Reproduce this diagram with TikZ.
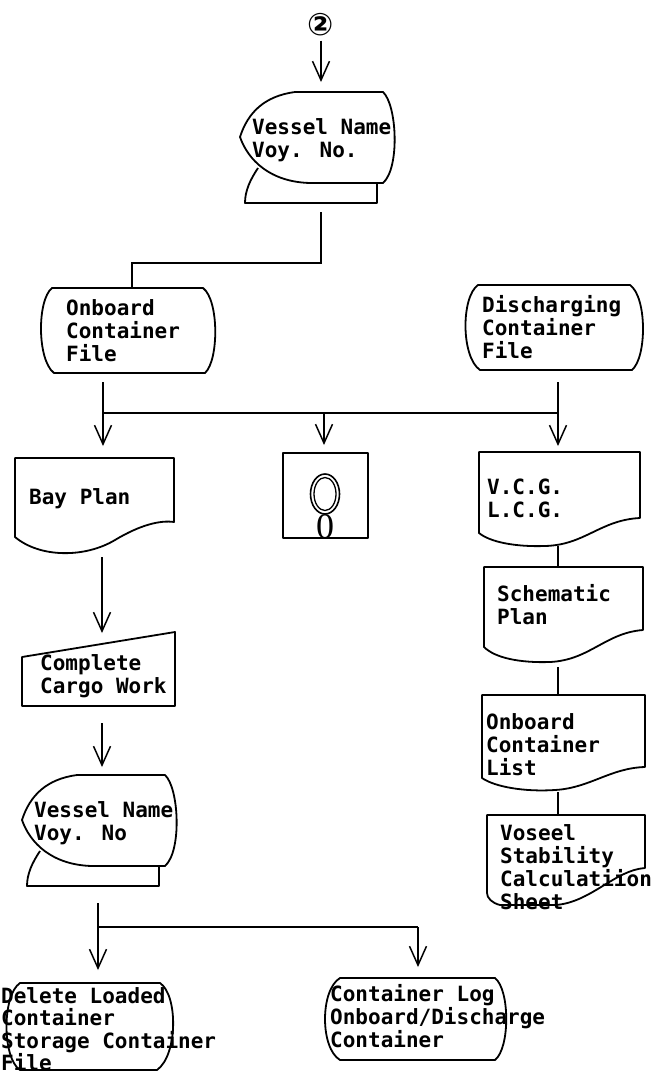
\documentclass[tikz,border=0pt]{standalone}
\usepackage{fontspec}
\newfontfamily\typefont{DejaVu Sans Mono}
\newfontfamily\symfont{DejaVu Sans}
\newfontfamily\digitfont{Liberation Serif}
\usetikzlibrary{arrows.meta}
\begin{document}
\begin{tikzpicture}[x=1pt,y=-1pt,
  shp/.style={line width=1.8pt, line join=round},
  conn/.style={line width=1.8pt},
  arr/.style={conn, -{Straight Barb[length=19pt,width=17pt,line width=1.5pt]}},
  lbl/.style={anchor=north west, inner sep=0pt, align=left,
    font=\typefont\bfseries\fontsize{21}{23}\selectfont,
    execute at begin node=\strut},
  vdisp/.pic={
    \draw[shp] (240,137) .. controls (248,112) and (265,96) .. (295,92) -- (383,92)
      .. controls (397,105) and (400,168) .. (383,183) -- (310,183)
      .. controls (270,182) and (248,160) .. (240,137) -- cycle;
    \draw[shp] (258,168) .. controls (250,180) and (245,191) .. (245,203) -- (377,203) -- (377,183);
  }
]
\fill[white] (0,0) rectangle (654,1076);
\useasboundingbox (0,0) rectangle (654,1076);

% ---- top connector symbol and first display
\node[inner sep=0pt, font=\symfont\bfseries\fontsize{31}{31}\selectfont] (c2) at (321,25) {②};
\pic at (0,0) {vdisp};
\node[lbl] (vn1) at (252,118.5) {Vessel Name\\Voy. No.};
\coordinate (vn1top) at (321,92);
\coordinate (vn1out) at (321,212);
\draw[arr, shorten <=4pt, shorten >=10pt] (c2) -- (vn1top);

% ---- files
\draw[shp] (52,288) -- (203,288) .. controls (219,300) and (219,360) .. (205,373) -- (54,373)
  .. controls (37,360) and (37,300) .. (52,288) -- cycle;
\node[lbl] (ocf) at (66,299.5) {Onboard\\Container\\File};
\draw[shp] (478,285) -- (630,285) .. controls (647,297) and (647,357) .. (632,370) -- (480,370)
  .. controls (461,357) and (461,297) .. (478,285) -- cycle;
\node[lbl] (dcf) at (482,295.5) {Discharging\\Container\\File};
\coordinate (ocftop) at (132,288);
\coordinate (j1) at (0,263);
\draw[conn] (vn1out) -- (vn1out |- j1) -| (ocftop);

% ---- split to three outputs
\coordinate (ocfout) at (103,382);
\coordinate (dcfout) at (558,382);
\coordinate (bpin) at (103,446);
\coordinate (diskin) at (324,445);
\coordinate (vcgin) at (558,446);
\coordinate (j2) at (0,413);
\draw[arr] (ocfout) -- (bpin);
\draw[arr] (dcfout) -- (vcgin);
\draw[conn] (ocfout |- j2) -- (dcfout |- j2);
\draw[arr] (diskin |- j2) -- (diskin);

% ---- Bay plan document
\draw[shp] (15,458) -- (174,458) -- (174,522) .. controls (160,520) and (140,525) .. (115,540)
  .. controls (85,558) and (40,558) .. (15,537) -- cycle;
\node[lbl] (bp) at (29,488.5) {Bay Plan};

% ---- disk box
\draw[shp] (283,453) rectangle (368,538);
\draw[line width=1.6pt] (325,494) ellipse [x radius=14.5, y radius=20];
\draw[line width=1.3pt] (325,494) ellipse [x radius=11, y radius=16.5];
\node[anchor=south, inner sep=0pt, font=\digitfont\fontsize{36}{36}\selectfont] (disk) at (325,539) {0};

% ---- right column documents
\draw[shp] (479,452) -- (640,452) -- (640,518) .. controls (600,520) and (585,545) .. (545,546)
  .. controls (515,547) and (490,542) .. (479,533) -- cycle;
\node[lbl] (vcg) at (487,478.5) {V.C.G.\\L.C.G.};
\coordinate (vcgout) at (558,546);
\coordinate (spin) at (558,567);
\draw[conn] (vcgout) -- (spin);

\draw[shp] (484,567) -- (643,567) -- (643,630) .. controls (605,633) and (590,660) .. (550,662)
  .. controls (520,663) and (495,658) .. (484,647) -- cycle;
\node[lbl] (sp) at (497,584.5) {Schematic\\Plan};
\coordinate (spout) at (558,667);
\coordinate (oclin) at (558,695);
\draw[conn] (spout) -- (oclin);

\draw[shp] (482,695) -- (645,695) -- (645,767) .. controls (610,768) and (590,788) .. (555,790)
  .. controls (525,792) and (495,787) .. (482,778) -- cycle;
\node[lbl] (ocl) at (486,713.5) {Onboard\\Container\\List};
\coordinate (oclout) at (558,792);
\coordinate (vscin) at (558,815);
\draw[conn] (oclout) -- (vscin);

\draw[shp] (487,815) -- (645,815) -- (645,868) .. controls (615,870) and (590,903) .. (555,905)
  -- (500,905) .. controls (492,903) and (487,898) .. (487,893) -- cycle;
\node[lbl] (vsc) at (500,824.5) {Voseel\\Stability\\Calculatiion\\Sheet};

% ---- left column: bay plan -> complete cargo work -> second display
\coordinate (bpout) at (102,557);
\coordinate (ccwin) at (102,633);
\draw[arr] (bpout) -- (ccwin);
\draw[shp] (22,657) -- (175,632) -- (175,706) -- (22,706) -- cycle;
\node[lbl] (ccw) at (40,654.5) {Complete\\Cargo Work};
\coordinate (ccwout) at (102,723);
\coordinate (vn2in) at (102,767);
\draw[arr] (ccwout) -- (vn2in);

\pic at (-218,683) {vdisp};
\node[lbl] (vn2) at (34,801.5) {Vessel Name\\Voy. No};

% ---- final split
\coordinate (vn2out) at (98,903);
\coordinate (dlcin) at (98,970);
\coordinate (clogin) at (418,967);
\coordinate (j3) at (0,927);
\draw[arr] (vn2out) -- (dlcin);
\draw[conn] (vn2out |- j3) -- (clogin |- j3);
\draw[arr] (clogin |- j3) -- (clogin);

\draw[shp] (20,983) -- (160,983) .. controls (178,995) and (178,1055) .. (157,1070) -- (20,1070)
  .. controls (2,1058) and (2,995) .. (20,983) -- cycle;
\node[lbl, font=\typefont\bfseries\fontsize{21}{22.5}\selectfont] (dlc) at (1,987) {Delete Loaded\\Container\\Storage Container\\File};

\draw[shp] (340,978) -- (495,978) .. controls (510,990) and (510,1048) .. (495,1060) -- (340,1060)
  .. controls (320,1048) and (320,990) .. (340,978) -- cycle;
\node[lbl] (clog) at (330,984.5) {Container Log\\Onboard/Discharge\\Container};
\end{tikzpicture}
\end{document}
